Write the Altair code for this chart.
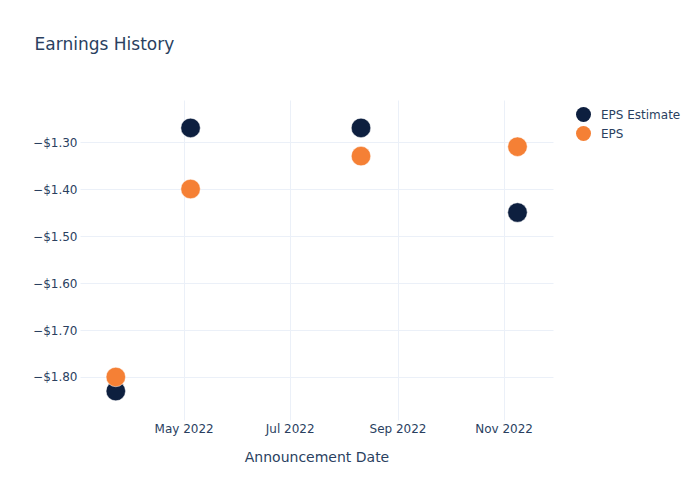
import altair as alt
import pandas as pd

dates = ["2022-03-23", "2022-05-05", "2022-08-11", "2022-11-09"]
eps_estimate = [-1.83, -1.27, -1.27, -1.45]
eps_actual = [-1.80, -1.40, -1.33, -1.31]
series_names = ["EPS Estimate", "EPS"]
series_colors = ["#0d1f3f", "#f58035"]

rows = []
for d, v in zip(dates, eps_estimate):
    rows.append({"date": d, "value": v, "series": series_names[0], "ord": 0})
for d, v in zip(dates, eps_actual):
    rows.append({"date": d, "value": v, "series": series_names[1], "ord": 1})
df = pd.DataFrame(rows)

FONT = "DejaVu Sans"
TXT = "#2a3f5f"
GRID = "#ebf0f8"

x_ticks = [alt.DateTime(year=2022, month=m, date=1, utc=True) for m in [5, 7, 9, 11]]

chart = alt.Chart(df).mark_circle(opacity=1, size=380, stroke="white", strokeWidth=0.5).encode(
    x=alt.X(
        "date:T",
        title="Announcement Date",
        scale=alt.Scale(
            type="utc",
            domain=[
                alt.DateTime(year=2022, month=3, date=2, hours=10, utc=True),
                alt.DateTime(year=2022, month=11, date=29, hours=10, utc=True),
            ],
            nice=False,
        ),
        axis=alt.Axis(
            values=x_ticks,
            labelExpr="utcFormat(datum.value, '%b %Y')",
            grid=True,
            gridColor=GRID,
            domain=False,
            ticks=False,
            labelPadding=3,
            labelFontSize=12,
            labelColor=TXT,
            labelFont=FONT,
            titleFont=FONT,
            titleFontSize=14,
            titleFontWeight="normal",
            titleColor=TXT,
            titlePadding=16,
        ),
    ),
    y=alt.Y(
        "value:Q",
        title=None,
        scale=alt.Scale(domain=[-1.8915, -1.2106], nice=False, zero=False),
        axis=alt.Axis(
            values=[-1.8, -1.7, -1.6, -1.5, -1.4, -1.3],
            format="$.2f",
            grid=True,
            gridColor=GRID,
            domain=False,
            ticks=False,
            labelPadding=3,
            labelFontSize=12,
            labelColor=TXT,
            labelFont=FONT,
        ),
    ),
    color=alt.Color(
        "series:N",
        scale=alt.Scale(domain=series_names, range=series_colors),
        legend=alt.Legend(
            title=None,
            orient="none",
            legendX=496,
            legendY=7,
            symbolType="circle",
            symbolSize=225,
            symbolOpacity=1,
            symbolStrokeWidth=0,
            labelFont=FONT,
            labelFontSize=12,
            labelColor=TXT,
            rowPadding=4,
            labelOffset=10,
        ),
    ),
    order=alt.Order("ord:Q"),
).properties(
    width=473,
    height=320,
    title=alt.TitleParams(
        "Earnings History",
        anchor="start",
        font=FONT,
        fontSize=17,
        fontWeight="normal",
        color=TXT,
        dx=2,
        offset=46,
    ),
    padding={"left": 80, "top": 100, "right": 147, "bottom": 80},
    autosize=alt.AutoSizeParams(type="none"),
).configure(background="white").configure_view(stroke=None)

chart.save("out.html", embed_options={"renderer": "svg", "actions": False})
